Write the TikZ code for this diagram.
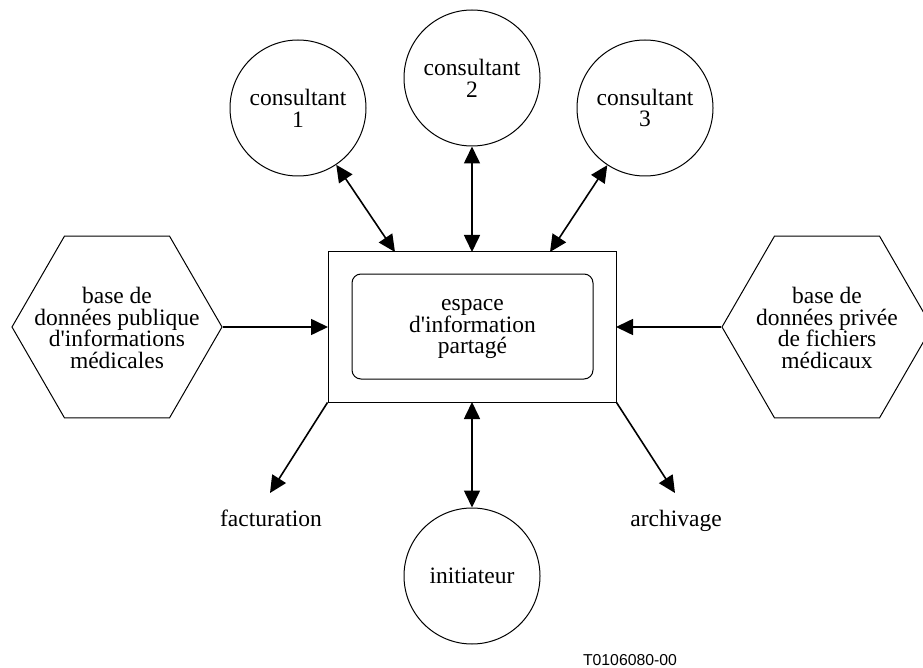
\documentclass[tikz,border=0pt]{standalone}
\usepackage{fontspec}
\defaultfontfeatures[\rmfamily]{}
\setmainfont{Liberation Serif}
\newfontfamily\labelfont{Liberation Sans}
\usetikzlibrary{arrows.meta,shapes.geometric}
\begin{document}
\begin{tikzpicture}[x=1pt,y=-1pt,
  lbl/.style={font=\fontsize{23.5}{21.7}\selectfont, align=center, inner sep=0pt},
  ccl/.style={circle, draw, line width=1pt, minimum size=136pt, inner sep=0pt, lbl},
  hexa/.style={regular polygon, regular polygon sides=6, draw, line width=1pt, minimum size=210pt, inner sep=0pt},
  conn/.style={line width=1.6pt, -{Triangle[length=17pt,width=16pt]}},
  biconn/.style={line width=1.6pt, {Triangle[length=17pt,width=16pt]}-{Triangle[length=17pt,width=16pt]}}
]
\useasboundingbox (0,0) rectangle (923,668);
\clip (0,0) rectangle (923,668);

% central boxes
\node[draw, line width=1pt, minimum width=288pt, minimum height=150pt, inner sep=0pt] (outer) at (472,327) {};
\node[draw, line width=1pt, rounded corners=9pt, minimum width=241pt, minimum height=105pt, inner sep=0pt] (inner) at (472.5,326.5) {};
\node[lbl] (espace) at (472.5,329) {espace\\d'information\\partagé};

% consultants
\node[ccl] (c1) at (298,108) {consultant\\1};
\node[ccl] (c2) at (472,78) {consultant\\2};
\node[ccl] (c3) at (645,108) {consultant\\3};
\node[ccl] (init) at (472,576) {initiateur};

% hexagons
\node[hexa] (pub) at (117,327) {};
\node[lbl] (pubtext) at (117,328) {base de\\données publique\\d'informations\\médicales};
\node[hexa] (priv) at (827,327) {};
\node[lbl] (privtext) at (827,328) {base de\\données privée\\de fichiers\\médicaux};

% endpoints on the outer box
\coordinate (t1) at (395,252);
\coordinate (t2) at (472,252);
\coordinate (t3) at (550,252);
\coordinate (b2) at (472,402);
\coordinate (lf) at (328,327);
\coordinate (rt) at (616,327);
\coordinate (fend) at (270,493);
\coordinate (aend) at (675,493);

% connectors
\draw[biconn] (c1) -- (t1);
\draw[biconn] (c2) -- (t2);
\draw[biconn] (c3) -- (t3);
\draw[biconn] (b2) -- (init);
\draw[conn] (pub.east) -- (lf);
\draw[conn] (priv.west) -- (rt);
\draw[conn] (outer.south west) -- (fend);
\draw[conn] (outer.south east) -- (aend);

% labels
\node[lbl, anchor=base] (fact) at (271,526) {facturation};
\node[lbl, anchor=base] (arch) at (676,526) {archivage};
\node[font=\labelfont\fontsize{15.8}{18}\selectfont, anchor=base, inner sep=0pt] (code) at (630,665) {T0106080-00};
\end{tikzpicture}
\end{document}
